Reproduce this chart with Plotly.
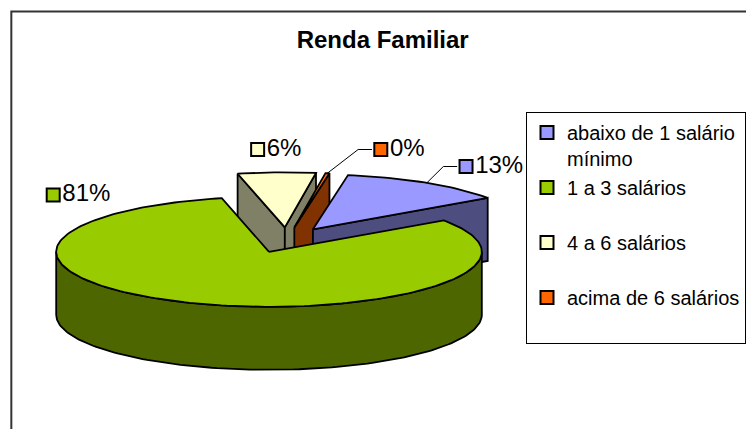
import math
import textwrap
import plotly.graph_objects as go

# ---------------- data ----------------
categories = ["abaixo de 1 salário mínimo", "1 a 3 salários", "4 a 6 salários", "acima de 6 salários"]
shares = [12.7, 81.1, 5.9, 0.3]          # percent of families
title_text = "Renda Familiar"

# ---------------- style ----------------
TOP_COLORS = ["#9999FF", "#99CC00", "#FFFFCC", "#FF6600"]
SIDE_COLORS = ["#4D4D80", "#4D6600", "#808066", "#803300"]
FONT = "Liberation Sans, Arial, sans-serif"
W, H = 746, 429

# 3-D pie projection (pixel-like axis units)
CX, CY = 291.0, 240.0
RX, RY = 216.0, 55.0
DEPTH = 63.0
EXPLODE = 0.23
START = 9.5               # first slice angle, degrees clockwise from 12 o'clock

# label key positions (axis units) and leader flags
LABEL_KEYS = [(473, 166.5), (54, 195), (261.5, 149.5), (386.5, 149.5)]
LEADER = [True, False, False, True]


def offset_of(mid):
    r = math.radians(mid)
    return (CX + EXPLODE * RX * math.sin(r), CY - EXPLODE * RY * math.cos(r))


def pt(theta, off, dz=0.0):
    r = math.radians(theta)
    return (off[0] + RX * math.sin(r), off[1] - RY * math.cos(r) + dz)


def arc(a0, a1, off, dz=0.0, n=None):
    if n is None:
        n = max(2, int(abs(a1 - a0) / 1.5) + 2)
    return [pt(a0 + (a1 - a0) * k / (n - 1), off, dz) for k in range(n)]


def poly_trace(points, fill):
    xs = [p[0] for p in points] + [points[0][0]]
    ys = [p[1] for p in points] + [points[0][1]]
    return go.Scatter(x=xs, y=ys, mode="lines", fill="toself", fillcolor=fill,
                      line=dict(color="black", width=1.8), hoverinfo="skip",
                      showlegend=False)


total = sum(shares)
spans = [v / total * 360.0 for v in shares]
slices = []
a = START
for i, s in enumerate(spans):
    slices.append((i, a, a + s))
    a += s

fig = go.Figure()

# draw back slices first
order = sorted(slices, key=lambda t: -math.cos(math.radians((t[1] + t[2]) / 2)))
for i, a0, a1 in order:
    mid = (a0 + a1) / 2
    off = offset_of(mid)
    apex_t = off
    apex_b = (off[0], off[1] + DEPTH)
    # outer curved wall (front-facing part: 90..270 deg mod 360)
    for k in (-1, 0, 1):
        lo = max(a0, 90 + 360 * k)
        hi = min(a1, 270 + 360 * k)
        if hi > lo:
            top = arc(lo, hi, off)
            bot = arc(hi, lo, off, DEPTH)
            fig.add_trace(poly_trace(top + bot, SIDE_COLORS[i]))
    # radial walls
    if math.sin(math.radians(a0)) < 0:
        fig.add_trace(poly_trace([apex_t, pt(a0, off), pt(a0, off, DEPTH), apex_b], SIDE_COLORS[i]))
    if math.sin(math.radians(a1)) > 0:
        fig.add_trace(poly_trace([apex_t, pt(a1, off), pt(a1, off, DEPTH), apex_b], SIDE_COLORS[i]))
    # top face
    fig.add_trace(poly_trace([apex_t] + arc(a0, a1, off), TOP_COLORS[i]))

# data labels with leader lines
for i, a0, a1 in slices:
    kx, ky = LABEL_KEYS[i]
    if LEADER[i]:
        mid = (a0 + a1) / 2
        p0 = pt(mid, offset_of(mid))
        fig.add_trace(go.Scatter(x=[p0[0], kx - 23, kx - 9], y=[p0[1], ky, ky], mode="lines",
                                 line=dict(color="black", width=1), hoverinfo="skip",
                                 showlegend=False))
    fig.add_trace(go.Scatter(x=[kx], y=[ky], mode="markers+text",
                             marker=dict(symbol="square", size=13, color=TOP_COLORS[i],
                                         line=dict(color="black", width=2)),
                             text=[f"{round(shares[i] / total * 100)}%"],
                             textposition="middle right",
                             textfont=dict(size=24, color="black", family=FONT),
                             hoverinfo="skip", showlegend=False))

# legend entries
for i, name in enumerate(categories):
    lines = textwrap.wrap(name, 19)
    if len(lines) < 2:
        lines.append(" ")
    fig.add_trace(go.Scatter(x=[None], y=[None], mode="markers", name="<br>".join(lines),
                             legendgroup=str(i),
                             marker=dict(symbol="square", size=13, color=TOP_COLORS[i],
                                         line=dict(color="black", width=2))))

fig.update_layout(
    width=W, height=H, autosize=False,
    margin=dict(l=0, r=0, t=0, b=0),
    paper_bgcolor="white", plot_bgcolor="white",
    font=dict(family=FONT, color="black"),
    title=dict(text=f"<b>{title_text}</b>", x=382.7 / W, xanchor="center",
               y=1 - 40 / H, yanchor="middle", font=dict(size=24, family=FONT, color="black")),
    xaxis=dict(range=[0, W], visible=False, fixedrange=True),
    yaxis=dict(range=[H, 0], visible=False, fixedrange=True),
    showlegend=True,
    legend=dict(x=534 / W, y=1 - 112 / H, xanchor="left", yanchor="top",
                bordercolor="black", borderwidth=1, bgcolor="white",
                font=dict(size=20, family=FONT, color="black"),
                traceorder="grouped", tracegroupgap=0, valign="top", itemwidth=30),
    shapes=[dict(type="rect", xref="paper", yref="paper", x0=11.5 / W, x1=1.02,
                 y0=-0.02, y1=1 - 11.5 / H, line=dict(color="#333333", width=2),
                 layer="below")],
)

fig.write_html("out.html", config={"staticPlot": True},
               post_script="document.body.style.margin='0px';document.body.style.overflow='hidden';")
